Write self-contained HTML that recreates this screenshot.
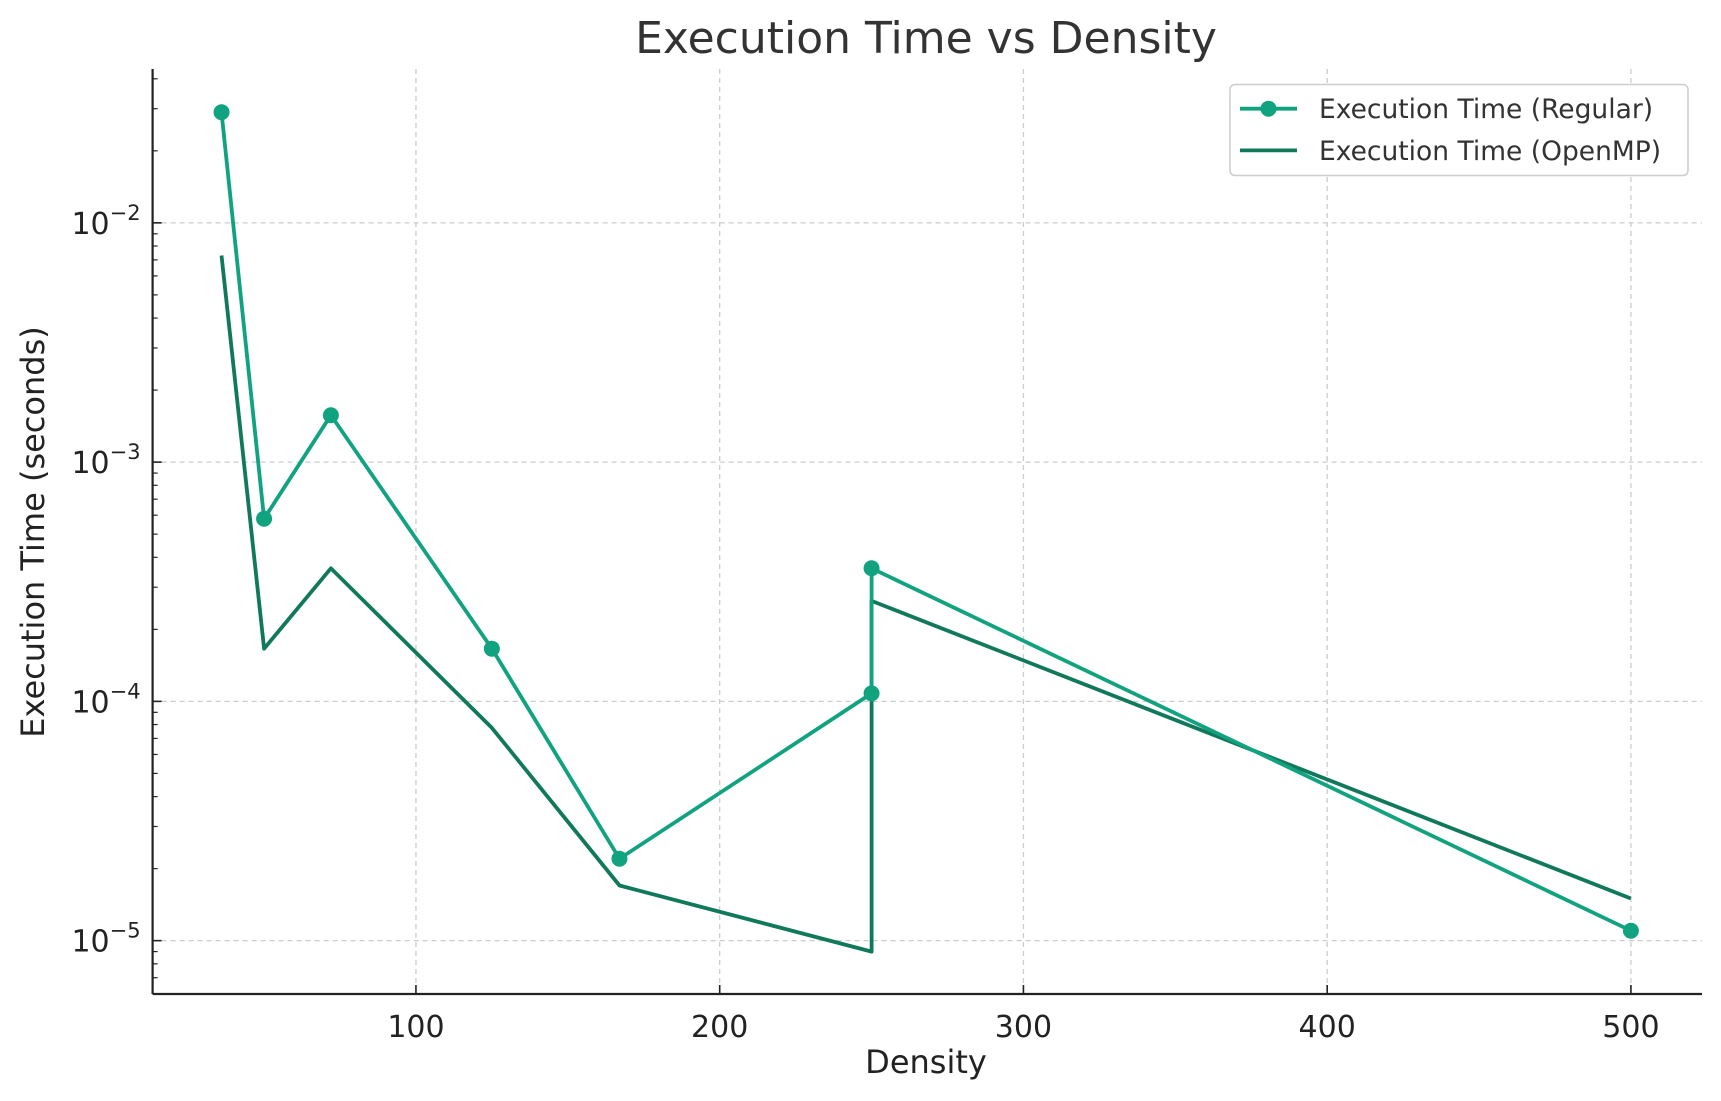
<!DOCTYPE html>
<html><head><meta charset="utf-8"><style>
html,body{margin:0;padding:0;background:#fff;}
svg{display:block;font-family:"DejaVu Sans","Liberation Sans",sans-serif;}
</style></head><body>
<svg id="chart" width="1721" height="1101" viewBox="0 0 1721 1101">
<text x="926" y="53" text-anchor="middle" font-size="44" fill="#333">Execution Time vs Density</text>
<g id="grid"></g>
<g id="axes"></g>
<g id="series"></g>
<text x="926" y="1073" text-anchor="middle" font-size="32" fill="#222">Density</text>
<text transform="translate(44,532) rotate(-90)" text-anchor="middle" font-size="32" fill="#222">Execution Time (seconds)</text>
<g>
<rect x="1230" y="84.5" width="458" height="91" rx="5" fill="#fff" stroke="#ccc" stroke-width="1.5"/>
<g>
<line x1="1240" y1="108.7" x2="1297" y2="108.7" stroke="#11a37f" stroke-width="3.8"/>
<circle cx="1268.5" cy="108.7" r="8" fill="#11a37f"/>
<text x="1319" y="118" font-size="26.5" fill="#333">Execution Time (Regular)</text>
</g>
<g>
<line x1="1240" y1="150.4" x2="1297" y2="150.4" stroke="#10795b" stroke-width="3.8"/>
<text x="1319" y="160" font-size="26.5" fill="#333">Execution Time (OpenMP)</text>
</g>
</g>
</svg>
<script>
const densities = [36, 50, 72, 125, 167, 250, 250, 500];
const regularTimes = [0.029, 5.8e-4, 1.57e-3, 1.66e-4, 2.2e-5, 1.08e-4, 3.6e-4, 1.1e-5];
const openmpTimes = [7.3e-3, 1.66e-4, 3.6e-4, 7.75e-5, 1.7e-5, 9e-6, 2.63e-4, 1.5e-5];
const xTicks = [100, 200, 300, 400, 500];
const yDecades = [-5, -4, -3, -2];

const NS = "http://www.w3.org/2000/svg";
const L = 152.6, R = 1702, T = 69, B = 994;
const xMin = 13.3, xMax = 523.4, yMinL = -5.223, yMaxL = -1.357;
function xs(v){ return L + (v - xMin) / (xMax - xMin) * (R - L); }
function ys(v){ return B - (Math.log10(v) - yMinL) / (yMaxL - yMinL) * (B - T); }
function mk(tag, attrs, parent){ const e = document.createElementNS(NS, tag); for (const k in attrs) e.setAttribute(k, attrs[k]); parent.appendChild(e); return e; }

const grid = document.getElementById('grid');
const axes = document.getElementById('axes');
const series = document.getElementById('series');

xTicks.forEach(t => {
  const x = xs(t);
  const g = mk('line', {x1:x, y1:T, x2:x, y2:B, stroke:'#ccc', 'stroke-width':1.3, 'stroke-dasharray':'5,4'}, grid);
  
  
  const tk = mk('line', {x1:x, y1:B, x2:x, y2:B-9, stroke:'#222', 'stroke-width':1.6}, axes);
  
  
  const lb = mk('text', {x:x, y:B+43, 'text-anchor':'middle', 'font-size':30, fill:'#222'}, axes);
  lb.textContent = t;
  
  
});

yDecades.forEach(d => {
  const y = ys(Math.pow(10, d));
  const g = mk('line', {x1:L, y1:y, x2:R, y2:y, stroke:'#ccc', 'stroke-width':1.3, 'stroke-dasharray':'5,4'}, grid);
  
  
  const tk = mk('line', {x1:L, y1:y, x2:L+9, y2:y, stroke:'#222', 'stroke-width':1.6}, axes);
  
  
  const lb = mk('text', {x:L-12, y:y+11, 'text-anchor':'end', 'font-size':30, fill:'#222'}, axes);
  
  
  lb.textContent = '10';
  const sup = mk('tspan', {dy:-14, 'font-size':21}, lb);
  sup.textContent = '\u2212' + (-d);
});
for (let d = -6; d <= -1; d++) {
  for (let m = 2; m <= 9; m++) {
    const v = m * Math.pow(10, d);
    const y = ys(v);
    if (y < T || y > B) continue;
    const tk = mk('line', {x1:L, y1:y, x2:L+5, y2:y, stroke:'#222', 'stroke-width':1.2}, axes);
    
    
  }
}
const ax1 = mk('line', {x1:L, y1:T, x2:L, y2:B, stroke:'#222', 'stroke-width':2.2}, axes);


const ax2 = mk('line', {x1:L, y1:B, x2:R, y2:B, stroke:'#222', 'stroke-width':2.2}, axes);



function pts(vals){ return densities.map((d,i) => xs(d).toFixed(1) + ',' + ys(vals[i]).toFixed(1)).join(' '); }
const lo = mk('polyline', {points:pts(openmpTimes), fill:'none', stroke:'#10795b', 'stroke-width':3.8, 'stroke-linejoin':'round'}, series);


const lr = mk('polyline', {points:pts(regularTimes), fill:'none', stroke:'#11a37f', 'stroke-width':3.8, 'stroke-linejoin':'round'}, series);


densities.forEach((d,i) => {
  const c = mk('circle', {cx:xs(d), cy:ys(regularTimes[i]), r:8, fill:'#11a37f'}, series);
  
  
});
</script>
</body></html>
